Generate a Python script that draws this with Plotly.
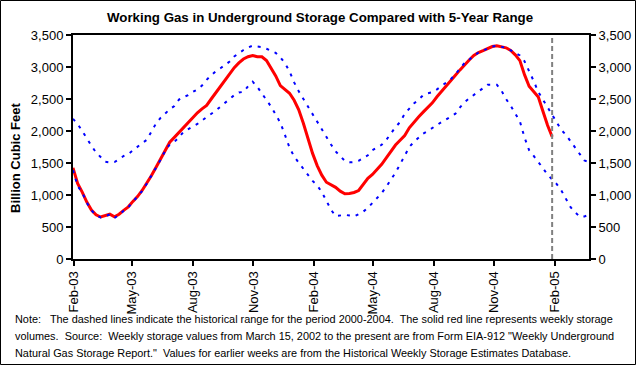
import plotly.graph_objects as go
import pandas as pd

# ---------------- data ----------------
start_date = "2003-01-31"   # weekly (Friday) observations

storage = [1425, 1180, 1045, 890, 765, 690, 656, 680, 700, 660,
           700, 760, 815, 900, 975, 1070, 1180, 1300, 1430, 1555,
           1700, 1825, 1900, 1975, 2060, 2140, 2215, 2285, 2345, 2400,
           2500, 2600, 2695, 2810, 2900, 2990, 3065, 3125, 3160, 3180,
           3160, 3160, 3100, 2990, 2860, 2710, 2650, 2590, 2480, 2330,
           2120, 1880, 1650, 1460, 1310, 1200, 1160, 1120, 1060, 1020,
           1025, 1040, 1070, 1175, 1260, 1320, 1400, 1480, 1580, 1680,
           1780, 1855, 1930, 2050, 2140, 2220, 2295, 2365, 2440, 2535,
           2615, 2695, 2775, 2870, 2955, 3040, 3110, 3180, 3225, 3255,
           3290, 3320, 3330, 3310, 3300, 3260, 3190, 3100, 2880, 2700,
           2610, 2530, 2310, 2090, 1910]

range_max = [2190, 2110, 2000, 1880, 1770, 1665, 1585, 1520, 1510, 1515,
             1560, 1610, 1640, 1700, 1750, 1810, 1860, 1990, 2115, 2205,
             2280, 2340, 2390, 2490, 2530, 2560, 2610, 2650, 2710, 2800,
             2870, 2935, 2980, 3030, 3085, 3165, 3220, 3265, 3305, 3333,
             3320, 3312, 3285, 3255, 3220, 3150, 3060, 2930, 2760, 2620,
             2500, 2380, 2250, 2150, 2030, 1895, 1790, 1680, 1600, 1535,
             1510, 1515, 1535, 1580, 1620, 1700, 1740, 1785, 1860, 1960,
             2060, 2140, 2270, 2350, 2430, 2490, 2560, 2590, 2605, 2650,
             2700, 2755, 2810, 2885, 2975, 3065, 3115, 3180, 3225, 3260,
             3290, 3320, 3333, 3320, 3300, 3260, 3215, 3180, 3090, 2940,
             2780, 2610, 2490, 2380, 2260, 2140, 2015, 1940, 1840, 1740,
             1630, 1540, 1510]

range_min = [1390, 1140, 1040, 880, 760, 685, 650, 675, 695, 640,
             690, 755, 810, 895, 970, 1060, 1175, 1295, 1425, 1550,
             1690, 1790, 1830, 1900, 1990, 2030, 2070, 2110, 2165, 2215,
             2260, 2320, 2380, 2440, 2505, 2560, 2603, 2610, 2700, 2770,
             2690, 2590, 2480, 2380, 2255, 2130, 1940, 1740, 1600, 1500,
             1400, 1300, 1220, 1150, 1045, 910, 770, 670, 680, 690,
             680, 666, 700, 740, 800, 880, 960, 1030, 1130, 1235,
             1350, 1480, 1620, 1750, 1830, 1900, 1960, 2000, 2050, 2095,
             2140, 2180, 2220, 2270, 2370, 2450, 2510, 2560, 2610, 2670,
             2723, 2723, 2723, 2630, 2500, 2395, 2270, 2150, 1900, 1700,
             1610, 1520, 1420, 1317, 1239, 1170, 1070, 930, 810, 730,
             660, 665, 690]

x_tick_dates = ["2003-02-01", "2003-05-01", "2003-08-01", "2003-11-01", "2004-02-01",
                "2004-05-01", "2004-08-01", "2004-11-01", "2005-02-01"]
x_tick_labels = ["Feb-03", "May-03", "Aug-03", "Nov-03", "Feb-04",
                 "May-04", "Aug-04", "Nov-04", "Feb-05"]
y_ticks = [0, 500, 1000, 1500, 2000, 2500, 3000, 3500]

title_text = "Working Gas in Underground Storage Compared with 5-Year Range"
y_title = "Billion Cubic Feet"
note_lines = [
    "Note:   The dashed lines indicate the historical range for the period 2000-2004.  The solid red line represents weekly storage",
    "volumes.  Source:  Weekly storage values from March 15, 2002 to the present are from Form EIA-912 \"Weekly Underground",
    "Natural Gas Storage Report.\"  Values for earlier weeks are from the Historical Weekly Storage Estimates Database.",
]

# ---------------- layout geometry ----------------
W, H = 638, 366
PL, PR, PT, PB = 73, 589, 35, 259   # plot area in pixels
PW, PH = PR - PL, PB - PT


def px(x):
    return (x - PL) / PW


def py(y):
    return (PB - y) / PH


FONT = "Liberation Sans, Arial, sans-serif"

storage_dates = pd.date_range(start_date, periods=len(storage), freq="7D")
range_dates = pd.date_range(start_date, periods=len(range_max), freq="7D")

fig = go.Figure()
fig.add_trace(go.Scatter(x=storage_dates, y=storage, mode="lines",
                         line=dict(color="#FF0000", width=3), hoverinfo="skip"))
fig.add_trace(go.Scatter(x=range_dates, y=range_max, mode="lines", yaxis="y2",
                         line=dict(color="#0000FF", width=2, dash="3px,6px"), hoverinfo="skip"))
fig.add_trace(go.Scatter(x=range_dates, y=range_min, mode="lines",
                         line=dict(color="#0000FF", width=2, dash="3px,6px"), hoverinfo="skip"))

axis_common = dict(showgrid=False, zeroline=False, showline=True, linecolor="black",
                   linewidth=2, ticks="outside", ticklen=5, tickwidth=1.5, tickcolor="black",
                   automargin=False,
                   tickfont=dict(family=FONT, size=13, color="black"))

fig.update_layout(
    width=W, height=H,
    margin=dict(l=PL, r=W - PR, t=PT, b=H - PB, pad=0, autoexpand=False),
    paper_bgcolor="white", plot_bgcolor="white",
    showlegend=False,
    font=dict(family=FONT, color="black"),
    xaxis=dict(type="date", range=["2003-01-31", "2005-03-25"],
               tickvals=x_tick_dates, ticktext=x_tick_labels, tickangle=-90,
               mirror=True, **axis_common),
    yaxis=dict(range=[0, 3500], tickvals=y_ticks, tickformat=",d", **axis_common),
    yaxis2=dict(range=[0, 3500], tickvals=y_ticks, tickformat=",d", overlaying="y",
                side="right", anchor="x", **axis_common),
)

# vertical dashed marker at latest observation
fig.add_shape(type="line", xref="x", yref="paper",
              x0=storage_dates[-1], x1=storage_dates[-1], y0=0, y1=1,
              line=dict(color="#808080", width=2, dash="5px,3px"))

# outer chart border
fig.add_shape(type="rect", xref="paper", yref="paper",
              x0=px(0.5), x1=px(635.5), y0=py(364.5), y1=py(0.5),
              line=dict(color="black", width=1), fillcolor="rgba(0,0,0,0)")

fig.add_annotation(text="<b>" + title_text + "</b>", xref="paper", yref="paper",
                   x=px(320), y=py(17), xanchor="center", yanchor="middle",
                   showarrow=False, font=dict(family=FONT, size=13.3, color="black"))
fig.add_annotation(text="<b>" + y_title + "</b>", xref="paper", yref="paper",
                   x=px(15), y=py(158), xanchor="center", yanchor="middle", textangle=-90,
                   showarrow=False, font=dict(family=FONT, size=13, color="black"))

note_y = [319, 336, 353]
for line, yy in zip(note_lines, note_y):
    fig.add_annotation(text=line, xref="paper", yref="paper",
                       x=px(13), y=py(yy), xanchor="left", yanchor="middle",
                       showarrow=False, font=dict(family=FONT, size=10.9, color="black"))

fig.write_html("out.html", config={"displayModeBar": False},
               post_script="document.body.style.margin='0px';document.body.style.overflow='hidden';")
